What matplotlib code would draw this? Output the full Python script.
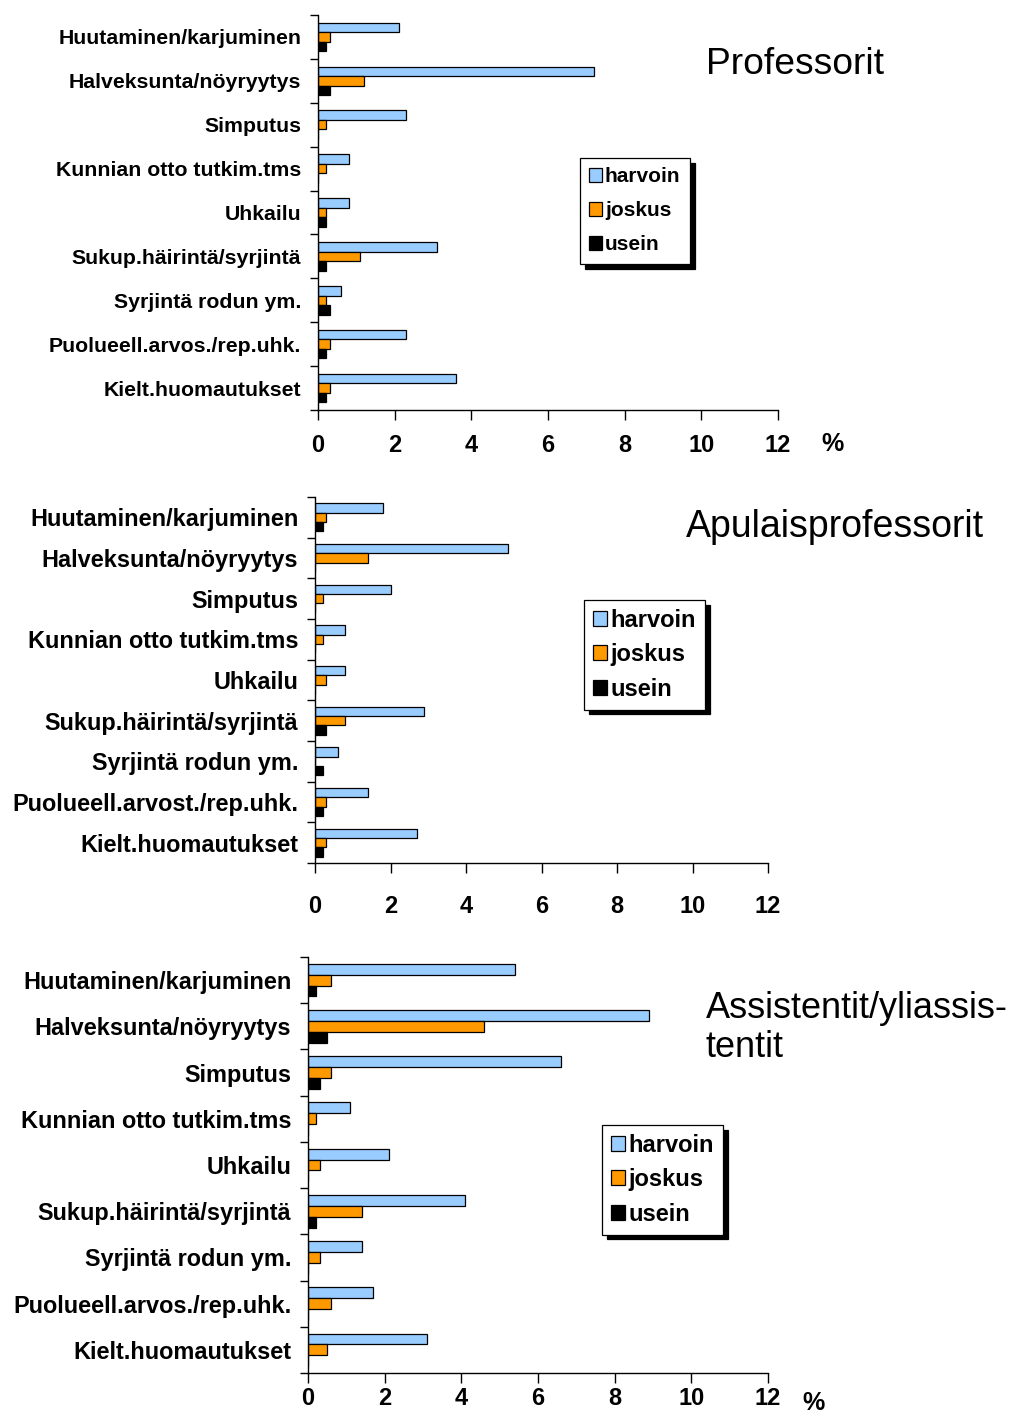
import matplotlib
matplotlib.use('Agg')
from matplotlib import pyplot as plt
import numpy as np

plt.rcParams['font.family'] = ['Liberation Sans', 'DejaVu Sans']

categories = ['Huutaminen/karjuminen', 'Halveksunta/nöyryytys', 'Simputus',
              'Kunnian otto tutkim.tms', 'Uhkailu', 'Sukup.häirintä/syrjintä',
              'Syrjintä rodun ym.', 'Puolueell.arvos./rep.uhk.', 'Kielt.huomautukset']
categories_apu = ['Huutaminen/karjuminen', 'Halveksunta/nöyryytys', 'Simputus',
                  'Kunnian otto tutkim.tms', 'Uhkailu', 'Sukup.häirintä/syrjintä',
                  'Syrjintä rodun ym.', 'Puolueell.arvost./rep.uhk.', 'Kielt.huomautukset']
series_names = ['harvoin', 'joskus', 'usein']
xticks = [0, 2, 4, 6, 8, 10, 12]

prof_harvoin = [2.1, 7.2, 2.3, 0.8, 0.8, 3.1, 0.6, 2.3, 3.6]
prof_joskus = [0.3, 1.2, 0.2, 0.2, 0.2, 1.1, 0.2, 0.3, 0.3]
prof_usein = [0.2, 0.3, 0.0, 0.0, 0.2, 0.2, 0.3, 0.2, 0.2]

apu_harvoin = [1.8, 5.1, 2.0, 0.8, 0.8, 2.9, 0.6, 1.4, 2.7]
apu_joskus = [0.3, 1.4, 0.2, 0.2, 0.3, 0.8, 0.0, 0.3, 0.3]
apu_usein = [0.2, 0.0, 0.0, 0.0, 0.0, 0.3, 0.2, 0.2, 0.2]

ass_harvoin = [5.4, 8.9, 6.6, 1.1, 2.1, 4.1, 1.4, 1.7, 3.1]
ass_joskus = [0.6, 4.6, 0.6, 0.2, 0.3, 1.4, 0.3, 0.6, 0.5]
ass_usein = [0.2, 0.5, 0.3, 0.0, 0.0, 0.2, 0.0, 0.0, 0.0]

colors = ['#99ccff', '#ff9900', '#000000']

W, H = 1021, 1415
fig = plt.figure(figsize=(W / 100, H / 100), dpi=100)


def px_axes(left, top, right, bottom):
    return fig.add_axes([left / W, 1 - bottom / H, (right - left) / W, (bottom - top) / H])


def panel(box, cats, values, bar_h, label_size, xpad, legend_xy, legend_size, legend_space, legend_pad):
    ax = px_axes(*box)
    y = np.arange(len(cats))
    for k, vals in enumerate(values):
        ax.barh(y + (k - 1) * bar_h, vals, height=bar_h, color=colors[k],
                edgecolor='black', linewidth=0.9, label=series_names[k])
    ax.set_xlim(0, 12)
    ax.set_ylim(len(cats) - 0.5, -0.5)
    ax.set_yticks(y)
    ax.set_yticklabels(cats, fontsize=label_size, fontweight='bold')
    ax.set_yticks(np.arange(len(cats) + 1) - 0.5, minor=True)
    ax.tick_params(axis='y', which='major', length=0, pad=12)
    ax.tick_params(axis='y', which='minor', length=6, width=1, direction='out')
    ax.set_xticks(xticks)
    ax.set_xticklabels([str(t) for t in xticks], fontsize=17, fontweight='bold')
    ax.tick_params(axis='x', length=7, width=1, direction='out', pad=xpad)
    for s in ['top', 'right']:
        ax.spines[s].set_visible(False)
    for s in ['left', 'bottom']:
        ax.spines[s].set_linewidth(1)
    leg = ax.legend(loc='upper left', bbox_to_anchor=(legend_xy[0] / W, 1 - legend_xy[1] / H),
                    bbox_transform=fig.transFigure, frameon=True, fancybox=False,
                    edgecolor='black', framealpha=1, borderaxespad=0,
                    prop={'size': legend_size, 'weight': 'bold'},
                    handlelength=0.6, handleheight=0.6, handletextpad=0.15,
                    labelspacing=legend_space, borderpad=legend_pad,
                    shadow={'color': 'black', 'alpha': 1, 'ox': 3.5, 'oy': -3.5})
    leg.get_frame().set_linewidth(0.9)
    return ax


ax1 = panel((318, 15, 778, 410), categories, [prof_harvoin, prof_joskus, prof_usein],
            0.217, 15.3, 10, (580, 158), 15, 0.72, 0.45)
ax2 = panel((315, 497, 768, 863), categories_apu, [apu_harvoin, apu_joskus, apu_usein],
            0.23, 16.9, 16, (584, 600), 17, 0.48, 0.38)
ax3 = panel((308, 957, 768, 1373), categories, [ass_harvoin, ass_joskus, ass_usein],
            0.235, 16.9, 3, (602, 1125), 17, 0.48, 0.38)

fig.text(832 / W, 1 - 444 / H, '%', fontsize=18, fontweight='bold', ha='center', va='center')
fig.text(813 / W, 1 - 1403 / H, '%', fontsize=18, fontweight='bold', ha='center', va='center')

fig.text(706 / W, 1 - 65 / H, 'Professorit', fontsize=26.8, ha='left', va='center')
fig.text(686 / W, 1 - 527 / H, 'Apulaisprofessorit', fontsize=27, ha='left', va='center')
fig.text(706 / W, 1 - 1028 / H, 'Assistentit/yliassis-\ntentit', fontsize=26,
         ha='left', va='center', linespacing=1.15)

fig.savefig('out.png', dpi=100)
